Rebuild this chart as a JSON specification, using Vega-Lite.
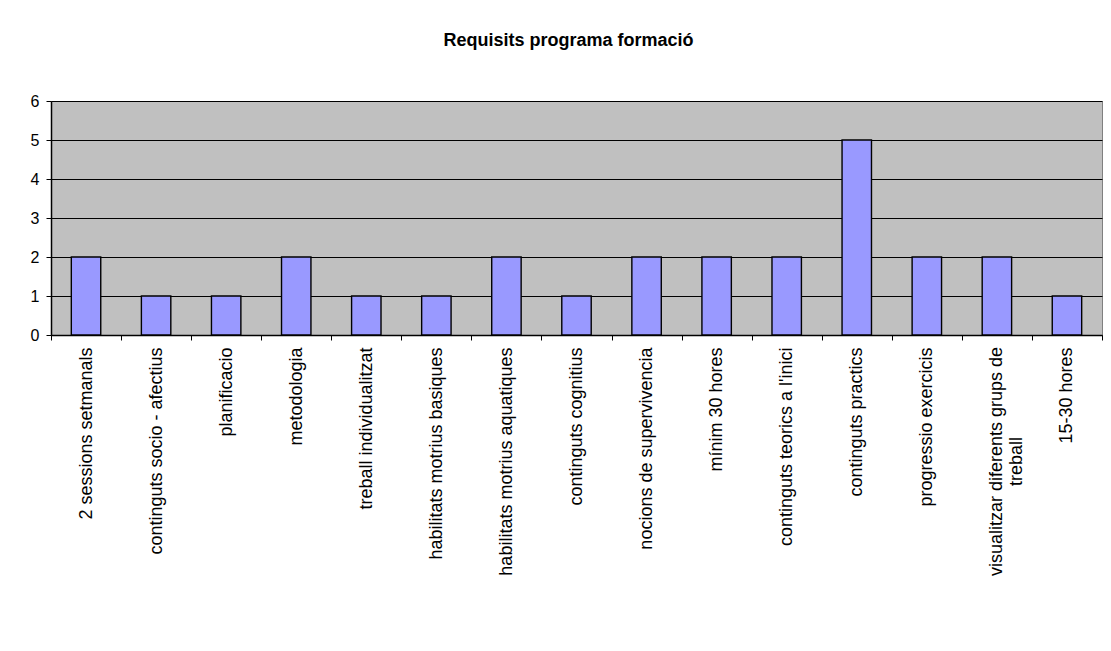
{
  "$schema": "https://vega.github.io/schema/vega-lite/v6.json",
  "autosize": {"type": "none"},
  "padding": {"left": 51, "top": 101, "right": 9, "bottom": 316},
  "width": 1051,
  "height": 234,
  "background": "white",
  "title": {
    "text": "Requisits programa formació",
    "font": "Liberation Sans",
    "fontSize": 18,
    "fontWeight": "bold",
    "color": "black",
    "anchor": "middle",
    "baseline": "alphabetic",
    "offset": 29,
    "dx": -8
  },
  "config": {
    "view": {"fill": "#C0C0C0", "stroke": "#808080", "strokeWidth": 1},
    "font": "Liberation Sans"
  },
  "data": {
    "values": [
      {"requisit": "2 sessions setmanals", "valor": 2},
      {"requisit": "continguts socio - afectius", "valor": 1},
      {"requisit": "planificacio", "valor": 1},
      {"requisit": "metodologia", "valor": 2},
      {"requisit": "treball individualitzat", "valor": 1},
      {"requisit": "habilitats motrius basiques", "valor": 1},
      {"requisit": "habilitats motrius aquatiques", "valor": 2},
      {"requisit": "continguts cognitius", "valor": 1},
      {"requisit": "nocions de supervivencia", "valor": 2},
      {"requisit": "mínim 30 hores", "valor": 2},
      {"requisit": "continguts teorics a l'inici", "valor": 2},
      {"requisit": "continguts practics", "valor": 5},
      {"requisit": "progressio exercicis", "valor": 2},
      {"requisit": "visualitzar diferents grups de treball", "valor": 2},
      {"requisit": "15-30 hores", "valor": 1}
    ]
  },
  "mark": {"type": "bar", "width": {"band": 0.42}, "fill": "#9999FF", "stroke": "black", "strokeWidth": 1.4},
  "encoding": {
    "x": {
      "field": "requisit",
      "type": "nominal",
      "sort": null,
      "scale": {"paddingInner": 0, "paddingOuter": 0},
      "axis": {
        "title": null,
        "tickBand": "extent",
        "grid": false,
        "domainColor": "black",
        "domainWidth": 1.5,
        "tickColor": "black",
        "tickSize": 5,
        "labelAngle": -90,
        "labelFontSize": 18,
        "labelColor": "black",
        "labelLimit": 0,
        "labelOverlap": false,
        "labelExpr": "datum.label == 'visualitzar diferents grups de treball' ? ['visualitzar diferents grups de', 'treball'] : datum.label",
        "labelAlign": {"condition": {"test": "datum.label == 'visualitzar diferents grups de treball'", "value": "center"}, "value": "right"},
        "labelPadding": {"condition": {"test": "datum.label == 'visualitzar diferents grups de treball'", "value": 121}, "value": 7}
      }
    },
    "y": {
      "field": "valor",
      "type": "quantitative",
      "scale": {"domain": [0, 6], "nice": false},
      "axis": {
        "title": null,
        "values": [0, 1, 2, 3, 4, 5, 6],
        "grid": true,
        "gridColor": "black",
        "gridWidth": 1.2,
        "domainColor": "black",
        "domainWidth": 1.5,
        "tickColor": "black",
        "tickSize": 5,
        "labelPadding": 7,
        "labelFontSize": 16,
        "labelColor": "black"
      }
    }
  }
}
